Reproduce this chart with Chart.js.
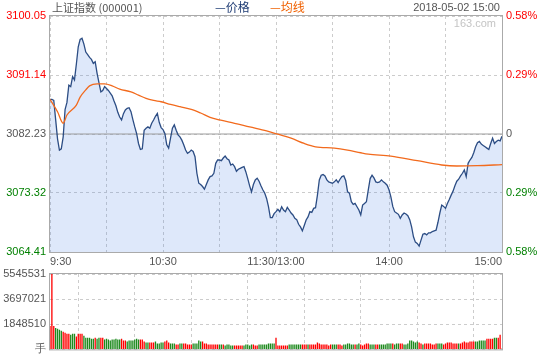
<!DOCTYPE html>
<html><head><meta charset="utf-8">
<script src="https://cdn.jsdelivr.net/npm/chart.js@4.4.0/dist/chart.umd.min.js"></script>
<style>
html,body{margin:0;padding:0;background:#fff;width:540px;height:360px;overflow:hidden;}
#wrap{position:relative;width:540px;height:360px;font-family:"Liberation Sans",Arial,"Noto Sans CJK SC",sans-serif;}
canvas{position:absolute;left:0;}
#c1{top:0;}
#c2{top:262px;}
.t{position:absolute;white-space:nowrap;line-height:14px;top:0;}
</style></head><body>
<div id="wrap">
<canvas id="c1" width="540" height="270"></canvas>
<canvas id="c2" width="540" height="98"></canvas>
<div class="t" style="left:52px;font-size:11px;color:#555;font-family:'Noto Sans CJK SC',sans-serif;">上证指数 (000001)</div>
<div class="t" style="left:215px;font-size:12px;color:#1f3c74;font-family:'Noto Sans CJK SC',sans-serif;">—价格</div>
<div class="t" style="left:270px;font-size:12px;color:#f06000;font-family:'Noto Sans CJK SC',sans-serif;">—均线</div>
<div class="t" style="right:40px;font-size:11px;color:#555;">2018-05-02 15:00</div>
<div class="t" style="right:44px;top:16px;font-size:11px;color:#c4c4c4;">163.com</div>
</div>
<script>
// ---- data ----
const price = [
3087.47,3087.47,3087.3,3084.4,3081.5,3079.8,3080.0,3081.8,3085.9,3087.0,
3089.6,3089.4,3090.9,3090.4,3092.8,3095.4,3096.5,3096.7,3095.8,3094.6,
3094.2,3093.8,3093.5,3092.9,3093.15,3091.4,3090.0,3088.6,3088.8,3089.4,
3089.1,3088.8,3088.4,3088.0,3087.2,3086.5,3085.5,3084.8,3084.35,3085.3,
3085.85,3086.1,3086.2,3085.6,3084.4,3083.3,3082.3,3080.8,3079.9,3080.0,
3082.8,3083.1,3083.3,3083.1,3083.85,3084.35,3084.9,3085.35,3084.0,3083.2,
3082.9,3082.3,3080.6,3080.1,3081.6,3083.1,3083.6,3082.8,3082.1,3081.8,
3081.3,3080.6,3079.8,3079.3,3079.5,3079.8,3079.6,3078.8,3076.3,3074.8,
3074.6,3074.3,3073.9,3074.6,3075.3,3075.8,3075.9,3076.3,3077.8,3078.3,
3078.3,3078.2,3078.6,3078.9,3078.5,3078.3,3077.55,3077.7,3077.3,3076.6,
3076.9,3077.05,3077.2,3077.3,3076.5,3075.5,3074.4,3073.5,3074.6,3075.3,
3075.55,3075.1,3074.4,3073.8,3073.3,3072.5,3071.25,3069.6,3069.6,3070.2,
3070.5,3070.85,3070.5,3071.25,3070.75,3070.5,3071.15,3070.75,3070.3,3070.0,
3069.5,3069.3,3068.6,3068.2,3067.6,3068.4,3069.25,3069.7,3070.5,3070.4,
3071.0,3071.1,3073.0,3075.3,3076.0,3076.1,3075.9,3075.3,3075.0,3074.9,
3074.8,3075.0,3075.3,3074.9,3075.4,3075.8,3075.9,3075.2,3073.5,3073.3,
3072.0,3071.6,3071.75,3071.25,3070.75,3070.0,3071.5,3071.75,3072.0,3073.8,
3075.5,3076.0,3075.6,3075.0,3074.9,3075.0,3075.3,3075.0,3074.8,3074.5,
3073.8,3072.75,3071.3,3070.5,3070.3,3070.1,3069.5,3070.0,3070.3,3070.15,
3069.9,3069.3,3068.2,3066.7,3065.9,3065.7,3065.3,3066.2,3067.1,3067.2,
3067.0,3067.3,3067.3,3067.5,3067.6,3067.7,3068.9,3070.3,3071.5,3071.3,
3071.0,3071.75,3072.35,3073.0,3073.6,3074.4,3075.1,3075.4,3075.9,3076.3,
3076.8,3075.8,3077.8,3078.3,3078.7,3079.4,3080.3,3080.9,3081.1,3080.7,
3080.5,3080.3,3080.1,3079.9,3080.8,3081.6,3080.8,3081.1,3081.3,3081.2,
3081.9];
const avgMinutes = [0,4,7,9,14,16,19,21,25,29,33,37,43,47,51,55,59,64,69,75,80,85,90,98,106,115,121,128,135,141,151,158,165,169,181,195,208,216,227,240];
const avgPrice = [3087.47,3085.6,3083.85,3085.1,3086.6,3087.8,3088.9,3089.5,3089.8,3089.8,3089.5,3089.0,3088.6,3088.1,3087.6,3087.3,3087.1,3086.7,3086.35,3085.95,3085.4,3084.75,3084.35,3083.85,3083.3,3082.7,3082.2,3081.6,3080.8,3080.3,3080.1,3079.8,3079.4,3079.2,3078.9,3078.2,3077.55,3077.4,3077.45,3077.6];
const volume = [
1730000,5545531,1730000,1580000,1510000,1440000,1370000,1300000,1220000,1150000,1150000,
1080000,1150000,1150000,940000,1150000,1150000,1150000,1010000,860000,860000,
860000,790000,790000,860000,790000,860000,860000,860000,720000,790000,
720000,650000,720000,720000,790000,720000,720000,790000,650000,650000,
580000,650000,650000,650000,720000,790000,720000,720000,720000,580000,
500000,500000,500000,500000,500000,580000,430000,430000,500000,500000,
580000,650000,500000,430000,430000,430000,360000,360000,430000,430000,
430000,430000,360000,360000,360000,430000,430000,430000,650000,580000,
580000,430000,430000,360000,360000,360000,360000,360000,360000,360000,
360000,360000,290000,360000,360000,290000,290000,290000,290000,290000,
290000,290000,290000,360000,360000,290000,360000,360000,290000,290000,
360000,360000,360000,360000,360000,430000,430000,430000,430000,860000,
290000,290000,290000,290000,290000,290000,360000,360000,360000,360000,
360000,360000,360000,360000,360000,360000,360000,360000,360000,360000,
360000,500000,430000,360000,360000,360000,360000,290000,360000,360000,
360000,360000,360000,360000,290000,360000,360000,430000,430000,360000,
360000,360000,360000,430000,360000,290000,360000,430000,430000,360000,
360000,360000,360000,360000,360000,360000,360000,360000,430000,430000,
430000,430000,360000,430000,430000,430000,430000,360000,360000,430000,
650000,650000,580000,500000,580000,500000,430000,360000,430000,430000,
430000,430000,360000,360000,430000,430000,430000,430000,360000,430000,
500000,500000,500000,430000,430000,430000,430000,430000,500000,580000,
500000,500000,580000,580000,580000,580000,580000,650000,650000,650000,
650000,790000,790000,790000,790000,860000,860000,860000,1080000,70000];
const upDown = "rrrggggrrrr" + "gggrrrrggg" + "gggrggrrgg" + "gggggggrrr" + "gggggggrrr" +
  "ggrrrggggg" + "rrrgggrrgg" + "rrrrrggggg" + "rrrrrrrrrg" + "grgggggrrr" + "rrgggggrrr" +
  "gggggggggr" + "rrrrrrgggg" + "gggrrrgrrr" + "rrrrrrrrrg" + "ggrrrggggg" + "grggrrrrrg" +
  "ggrrgggggg" + "grgggrrggg" + "gggggrrgrr" + "rrrrrgggrr" + "rrrrrrgrrr" + "rrrrrggggg" + "grrrrggrrr";
const prevClose = 3082.23;
const priceTicks = [3064.41,3073.32,3082.23,3091.14,3100.05];
const pctLabels = ['0.58%','0.29%','0','0.29%','0.58%'];
const timeTicks = [0,30,60,90,120,150,180,210,240];
const timeLabels = ['9:30','','10:30','','11:30/13:00','','14:00','','15:00'];
const volTicks = [0,1848510,3697021,5545531];
const volLabels = ['手','1848510','3697021','5545531'];

// ---- styles ----
const RED='#ff0000', GREEN='#008000', GRAY='#555555';
const tickColors=[GREEN,GREEN,GRAY,RED,RED];
const FONT={family:'"Liberation Sans", Arial, sans-serif', size:11};
const GRID='#cccccc';
const frame={id:'frame',afterDraw(c){const a=c.chartArea,x=c.ctx;x.save();x.strokeStyle='#aaaaaa';x.lineWidth=1;
  x.strokeRect(a.left-0.5,a.top-0.5,a.right-a.left+1,a.bottom-a.top+1);x.restore();}};
const setTicks=arr=>s=>{s.ticks=arr.map(v=>({value:v}));};

new Chart(document.getElementById('c1'),{
  type:'line',
  data:{datasets:[
    {data:price.map((p,i)=>({x:i,y:p})),borderColor:'#2c4d84',borderWidth:1.3,backgroundColor:'rgba(70,130,230,0.18)',fill:'start',pointRadius:0,order:1},
    {data:avgMinutes.map((m,i)=>({x:m,y:avgPrice[i]})),borderColor:'#f26a1d',borderWidth:1.3,fill:false,pointRadius:0,order:0,cubicInterpolationMode:'monotone'},
    {data:[{x:0,y:prevClose},{x:240,y:prevClose}],borderColor:'#9c9c9c',borderWidth:1,fill:false,pointRadius:0,order:2}
  ]},
  options:{responsive:false,animation:false,devicePixelRatio:1,
    layout:{padding:{top:16,left:0,right:0,bottom:0}},
    plugins:{legend:{display:false},tooltip:{enabled:false},filler:{drawTime:'beforeDatasetsDraw'}},
    scales:{
      x:{type:'linear',min:0,max:240,afterBuildTicks:setTicks(timeTicks),afterFit:s=>{s.height=18;},
        grid:{color:GRID,drawTicks:false,borderDash:[3,3]},border:{display:false,dash:[3,3]},
        ticks:{padding:3,align:'inner',maxRotation:0,autoSkip:false,color:GRAY,font:FONT,callback:(v,i)=>timeLabels[i]}},
      y:{position:'left',min:priceTicks[0],max:priceTicks[4],afterBuildTicks:setTicks(priceTicks),afterFit:s=>{s.width=50;},
        grid:{color:GRID,drawTicks:false,borderDash:[3,3]},border:{display:false,dash:[3,3]},
        ticks:{padding:4,autoSkip:false,font:FONT,color:c=>tickColors[c.index],callback:(v,i)=>priceTicks[i].toFixed(2)}},
      y2:{position:'right',min:priceTicks[0],max:priceTicks[4],afterBuildTicks:setTicks(priceTicks),afterFit:s=>{s.width=38;},
        grid:{display:false,drawTicks:false},border:{display:false},
        ticks:{padding:4,autoSkip:false,font:FONT,color:c=>tickColors[c.index],callback:(v,i)=>pctLabels[i]}}
    }},
  plugins:[frame]
});

new Chart(document.getElementById('c2'),{
  type:'bar',
  data:{datasets:[{data:volume.map((v,i)=>({x:i,y:v})),backgroundColor:volume.map((v,i)=>upDown[i]==='r'?RED:'#1e8a1e'),
    barPercentage:0.7,categoryPercentage:1,borderWidth:0}]},
  options:{responsive:false,animation:false,devicePixelRatio:1,
    layout:{padding:{top:12,right:38,left:0,bottom:0}},
    plugins:{legend:{display:false},tooltip:{enabled:false}},
    scales:{
      x:{type:'linear',min:0,max:240,offset:false,afterBuildTicks:setTicks(timeTicks),afterFit:s=>{s.height=9;},
        grid:{color:GRID,drawTicks:false,borderDash:[3,3]},border:{display:false,dash:[3,3]},ticks:{display:false}},
      y:{min:0,max:volTicks[3],afterBuildTicks:setTicks(volTicks),afterFit:s=>{s.width=50;},
        grid:{color:GRID,drawTicks:false,borderDash:[3,3]},border:{display:false,dash:[3,3]},
        ticks:{padding:4,autoSkip:false,color:GRAY,font:FONT,callback:(v,i)=>volLabels[i]}}
    }},
  plugins:[frame]
});
</script>
</body></html>
